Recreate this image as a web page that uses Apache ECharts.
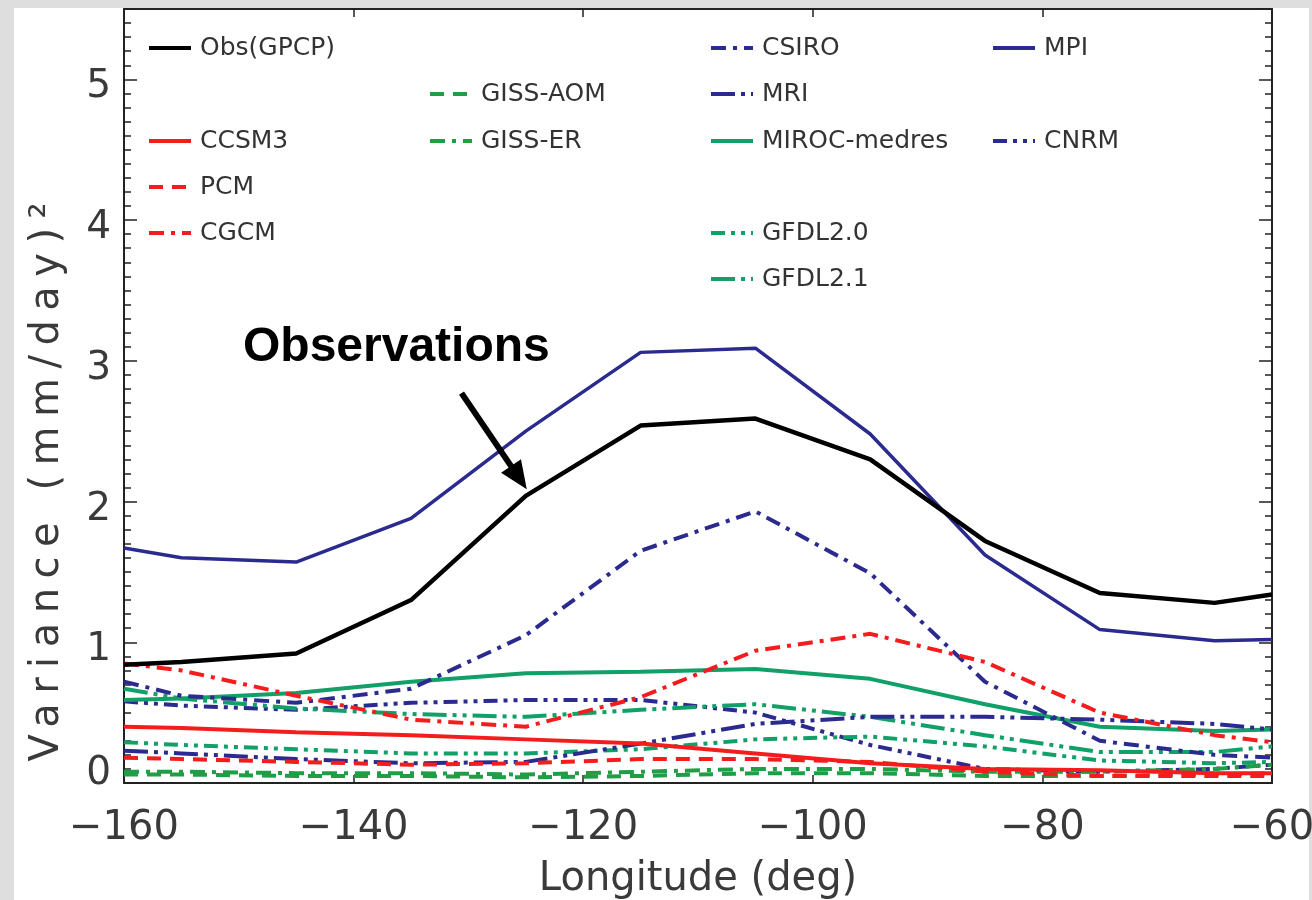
<!DOCTYPE html>
<html>
<head>
<meta charset="utf-8">
<script src="https://cdn.jsdelivr.net/npm/echarts@6/dist/echarts.min.js"></script>
<style>
html,body{margin:0;padding:0;background:#dedede;}
#chart{width:1312px;height:900px;}
</style>
</head>
<body>
<div id="chart"></div>
<script>
// ---- data (longitude in deg, variance in (mm/day)^2) ----
const lon = [-160, -155, -145, -135, -125, -115, -105, -95, -85, -75, -65, -60];
const xTicks = [-160, -140, -120, -100, -80, -60];
const yTicks = [0, 1, 2, 3, 4, 5];

const obsGPCP = [0.84, 0.86, 0.92, 1.30, 2.04, 2.54, 2.59, 2.30, 1.72, 1.35, 1.28, 1.34];
const mpi     = [1.67, 1.60, 1.57, 1.88, 2.50, 3.06, 3.09, 2.48, 1.62, 1.09, 1.01, 1.02];
const csiro   = [0.72, 0.62, 0.57, 0.67, 1.05, 1.65, 1.93, 1.49, 0.72, 0.30, 0.20, 0.18];
const mri     = [0.23, 0.21, 0.17, 0.14, 0.15, 0.28, 0.42, 0.47, 0.47, 0.45, 0.42, 0.38];
const cnrm    = [0.58, 0.55, 0.52, 0.57, 0.59, 0.59, 0.50, 0.27, 0.10, 0.08, 0.10, 0.13];
const ccsm3   = [0.40, 0.39, 0.36, 0.34, 0.31, 0.28, 0.21, 0.14, 0.10, 0.09, 0.07, 0.07];
const pcm     = [0.18, 0.17, 0.15, 0.13, 0.14, 0.17, 0.17, 0.15, 0.08, 0.05, 0.05, 0.05];
const cgcm    = [0.85, 0.80, 0.62, 0.45, 0.40, 0.61, 0.94, 1.06, 0.86, 0.50, 0.34, 0.29];
const gissAom = [0.06, 0.06, 0.05, 0.05, 0.04, 0.05, 0.07, 0.07, 0.05, 0.05, 0.06, 0.07];
const gissEr  = [0.08, 0.08, 0.07, 0.07, 0.06, 0.08, 0.10, 0.10, 0.08, 0.08, 0.10, 0.13];
const miroc   = [0.59, 0.60, 0.64, 0.72, 0.78, 0.79, 0.81, 0.74, 0.56, 0.40, 0.37, 0.38];
const gfdl20  = [0.29, 0.27, 0.24, 0.21, 0.21, 0.24, 0.31, 0.33, 0.26, 0.16, 0.14, 0.15];
const gfdl21  = [0.67, 0.60, 0.53, 0.49, 0.47, 0.52, 0.56, 0.47, 0.34, 0.22, 0.22, 0.26];

// arrow annotation (data coords) and its label
const arrowFrom = [-130.6, 2.77];
const arrowTo = [-125.6, 2.17];
const annotationText = 'Observations';
const Y_NAME = 'Variance (mm/day)\u00B2';
const X_NAME = 'Longitude (deg)';

// ---- styles ----
const C_BLACK = '#000000', C_NAVY = '#2b2a8e', C_RED = '#f41c1c', C_GISS = '#1f9e46', C_GFDL = '#10a068';
const SOLID = 'solid';
const DASH = [14, 9];
const DASHDOT = [15, 7, 4, 7];
const DASHDOTDOT = [14, 6, 4, 6, 4, 6];
const LONGDASHDOTDOT = [24, 6, 4, 6, 4, 6];

const seriesDefs = [
  {name: 'Obs(GPCP)',    data: obsGPCP, color: C_BLACK, type: SOLID, w: 4.5, leg: [147, 48]},
  {name: 'CCSM3',        data: ccsm3,   color: C_RED,   type: SOLID, w: 4, leg: [147, 141]},
  {name: 'PCM',          data: pcm,     color: C_RED,   type: DASH, w: 4, leg: [147, 187]},
  {name: 'CGCM',         data: cgcm,    color: C_RED,   type: DASHDOT, w: 4, leg: [147, 233]},
  {name: 'GISS-AOM',     data: gissAom, color: C_GISS,  type: DASH, w: 4, leg: [428, 94]},
  {name: 'GISS-ER',      data: gissEr,  color: C_GISS,  type: DASHDOT, w: 4, leg: [428, 141]},
  {name: 'CSIRO',        data: csiro,   color: C_NAVY,  type: DASHDOT, w: 4, leg: [709, 48]},
  {name: 'MRI',          data: mri,     color: C_NAVY,  type: LONGDASHDOTDOT, w: 4, leg: [709, 94]},
  {name: 'MIROC-medres', data: miroc,   color: C_GFDL,  type: SOLID, w: 4, leg: [709, 141]},
  {name: 'GFDL2.0',      data: gfdl20,  color: C_GFDL,  type: DASHDOTDOT, w: 4, leg: [709, 233]},
  {name: 'GFDL2.1',      data: gfdl21,  color: C_GFDL,  type: LONGDASHDOTDOT, w: 4, leg: [709, 279]},
  {name: 'MPI',          data: mpi,     color: C_NAVY,  type: SOLID, w: 3.5, leg: [991, 48]},
  {name: 'CNRM',         data: cnrm,    color: C_NAVY,  type: DASHDOTDOT, w: 4, leg: [991, 141]}
];

const FONT = 'DejaVu Sans';
const AXIS_COLOR = '#222';
const LABEL_COLOR = '#3a3a3a';

// wide letter spacing of the original plotting package, applied to the y title only
(function () {
  const proto = CanvasRenderingContext2D.prototype;
  const orig = proto.fillText;
  proto.fillText = function (t, x, y) {
    if (t === Y_NAME && 'letterSpacing' in this) {
      const spacing = 9.5, shift = -86;
      const w0 = this.measureText(t).width;
      const align = this.textAlign;
      let cx = x;
      if (align === 'left' || align === 'start') cx = x + w0 / 2;
      else if (align === 'right' || align === 'end') cx = x - w0 / 2;
      this.save();
      this.letterSpacing = spacing + 'px';
      this.textAlign = 'center';
      const r = orig.call(this, t, cx + shift + spacing / 2, y);
      this.restore();
      return r;
    }
    return orig.apply(this, arguments);
  };
})();

const series = seriesDefs.slice().reverse().map(d => ({
  name: d.name,
  type: 'line',
  xAxisIndex: 0,
  yAxisIndex: 0,
  symbol: 'none',
  animation: false,
  color: d.color,
  data: lon.map((x, i) => [x, d.data[i]]),
  lineStyle: {color: d.color, width: d.w, type: d.type},
  z: d.name === 'Obs(GPCP)' ? 5 : 3
}));

// arrow pointing at the observations line
series.push({
  name: 'arrow',
  type: 'line',
  data: [],
  xAxisIndex: 0, yAxisIndex: 0,
  symbol: 'none',
  animation: false,
  markLine: {
    silent: true,
    animation: false,
    symbol: ['none', 'triangle'],
    symbolSize: [24, 28],
    label: {show: false},
    lineStyle: {color: '#000', width: 6, type: 'solid'},
    data: [[{coord: arrowFrom}, {coord: arrowTo}]]
  }
});

const legends = seriesDefs.map(d => ({
  data: [d.name],
  left: d.leg[0],
  top: d.leg[1] - 13,
  padding: 0,
  itemWidth: 42,
  itemHeight: 14,
  selectedMode: false,
  itemStyle: {opacity: 0},
  lineStyle: {width: 4},
  textStyle: {fontFamily: FONT, fontSize: 25, color: '#333', lineHeight: 26, padding: [0, 0, 0, 4]}
}));

const yLabelRich = {
  z: {fontFamily: FONT, fontSize: 39, color: LABEL_COLOR, padding: [0, 0, 18, 0]},
  n: {fontFamily: FONT, fontSize: 39, color: LABEL_COLOR, padding: [16, 0, 0, 0]}
};

const yMajor = (pos, withLabel) => ({
  type: 'value', position: pos, min: 0, max: 5.5, interval: 1,
  name: withLabel ? Y_NAME : '',
  nameLocation: 'middle', nameGap: 56, nameRotate: 90,
  nameTextStyle: {fontFamily: FONT, fontSize: 40, color: LABEL_COLOR},
  axisLine: {show: true, onZero: false, lineStyle: {color: AXIS_COLOR, width: 2}},
  axisTick: {show: true, inside: true, length: 13, lineStyle: {color: AXIS_COLOR, width: 1.5}},
  axisLabel: {show: withLabel, fontFamily: FONT, fontSize: 39, color: LABEL_COLOR, margin: 13,
    showMaxLabel: false, rich: yLabelRich,
    formatter: v => (v === 0 ? '{z|0}' : (yTicks.indexOf(v) >= 0 ? '{n|' + v + '}' : ''))},
  splitLine: {show: false}
});
const yMinor = (pos) => ({
  type: 'value', position: pos, min: 0, max: 5.5, interval: 0.1,
  axisLine: {show: false},
  axisTick: {show: true, inside: true, length: 7, lineStyle: {color: AXIS_COLOR, width: 1.5}},
  axisLabel: {show: false},
  splitLine: {show: false}
});
const xAx = (pos, withLabel) => ({
  type: 'value', position: pos, min: -160, max: -60, interval: 20,
  name: withLabel ? X_NAME : '',
  nameLocation: 'middle', nameGap: 77,
  nameTextStyle: {fontFamily: FONT, fontSize: 40, color: LABEL_COLOR},
  axisLine: {show: true, onZero: false, lineStyle: {color: AXIS_COLOR, width: 2}},
  axisTick: {show: true, inside: true, length: 8, lineStyle: {color: AXIS_COLOR, width: 1.5}},
  axisLabel: {show: withLabel, fontFamily: FONT, fontSize: 40, color: LABEL_COLOR, margin: 26,
    formatter: v => (xTicks.indexOf(v) >= 0 ? String(v).replace('-', '\u2212') : '')},
  splitLine: {show: false}
});

const chart = echarts.init(document.getElementById('chart'), null, {renderer: 'canvas'});
chart.setOption({
  backgroundColor: '#dedede',
  animation: false,
  grid: {left: 124, top: 9, width: 1148, height: 774, containLabel: false, outerBoundsMode: 'none'},
  xAxis: [xAx('bottom', true), xAx('top', false)],
  yAxis: [yMajor('left', true), yMinor('left'), yMajor('right', false), yMinor('right')],
  legend: legends,
  graphic: [
    {type: 'rect', z: -100, silent: true, shape: {x: 14, y: 8, width: 1295, height: 892}, style: {fill: '#ffffff'}},
    {type: 'text', z: 50, silent: true, style: {text: annotationText, x: 243, y: 348,
      font: 'bold 48px "Liberation Sans", Arial, sans-serif', fill: '#000', textVerticalAlign: 'middle'}}
  ],
  series: series
});
</script>
</body>
</html>
